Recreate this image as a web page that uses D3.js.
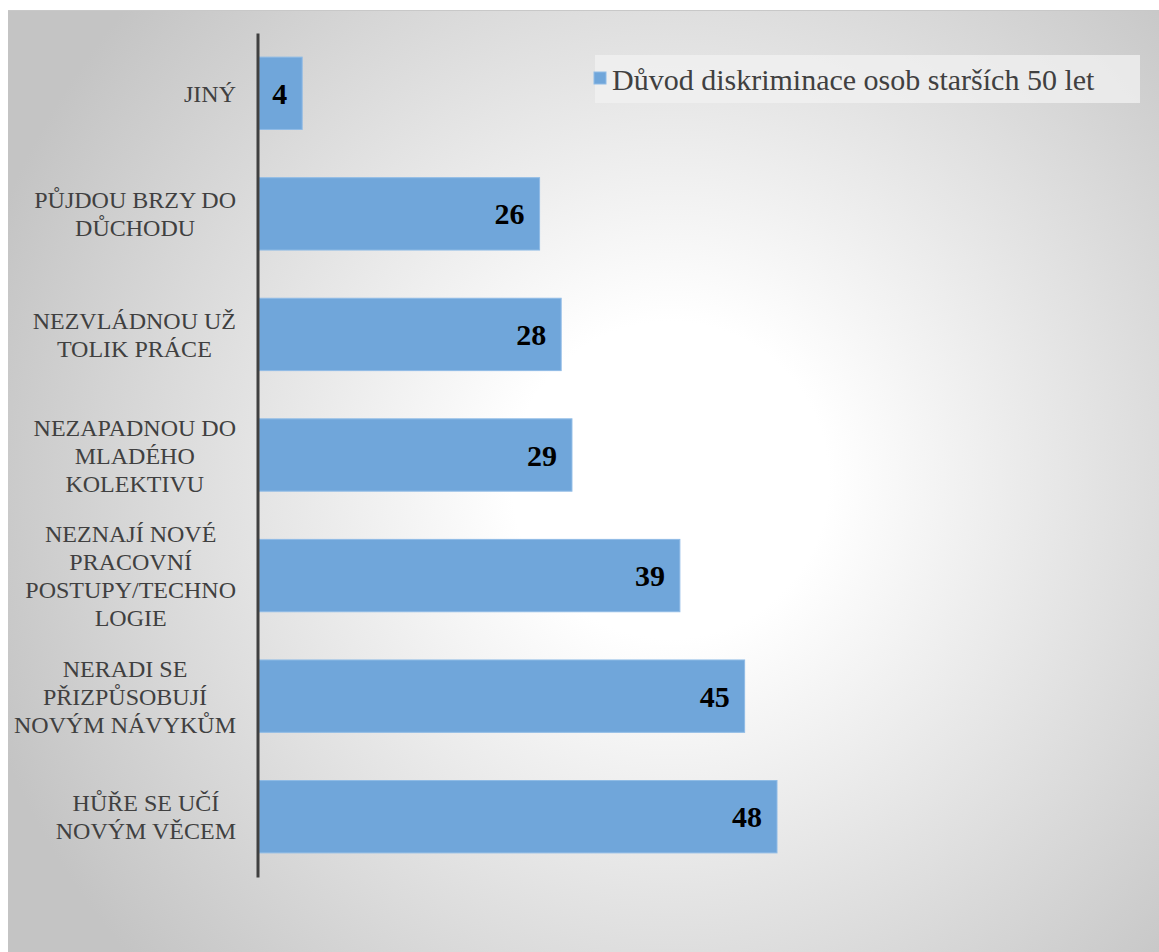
<!DOCTYPE html>
<html>
<head>
<meta charset="utf-8">
<script src="https://cdn.jsdelivr.net/npm/d3@7"></script>
<style>
  html, body { margin: 0; padding: 0; background: #fff; }
  svg { display: block; }
</style>
</head>
<body>
<div></div>
<script>
var categories = [
    "JINÝ",
    "PŮJDOU BRZY DO DŮCHODU",
    "NEZVLÁDNOU UŽ TOLIK PRÁCE",
    "NEZAPADNOU DO MLADÉHO KOLEKTIVU",
    "NEZNAJÍ NOVÉ PRACOVNÍ POSTUPY/TECHNOLOGIE",
    "NERADI SE PŘIZPŮSOBUJÍ NOVÝM NÁVYKŮM",
    "HŮŘE SE UČÍ NOVÝM VĚCEM"
];
// how each category label wraps on the axis
var labelLines = [
    ["JINÝ"],
    ["PŮJDOU BRZY DO", "DŮCHODU"],
    ["NEZVLÁDNOU UŽ", "TOLIK PRÁCE"],
    ["NEZAPADNOU DO", "MLADÉHO", "KOLEKTIVU"],
    ["NEZNAJÍ NOVÉ", "PRACOVNÍ", "POSTUPY/TECHNO", "LOGIE"],
    ["NERADI SE", "PŘIZPŮSOBUJÍ", "NOVÝM NÁVYKŮM"],
    ["HŮŘE SE UČÍ", "NOVÝM VĚCEM"]
];
var values = [4, 26, 28, 29, 39, 45, 48];
var seriesName = "Důvod diskriminace osob starších 50 let";

var width = 1159,
    height = 952;
var serif = "'Liberation Serif', 'Times New Roman', serif";

var svg = d3.select("div")
    .append("svg")
    .attr("width", width)
    .attr("height", height);

// background panel with a radial glow
var defs = svg.append("defs");
var grad = defs.append("radialGradient")
    .attr("id", "bg")
    .attr("gradientUnits", "userSpaceOnUse")
    .attr("cx", 670).attr("cy", 480).attr("r", 720);
grad.append("stop").attr("offset", "0.22").attr("stop-color", "#ffffff");
grad.append("stop").attr("offset", "1").attr("stop-color", "#c4c4c4");

svg.append("rect")
    .attr("x", 8).attr("y", 10)
    .attr("width", width - 8).attr("height", height - 10)
    .attr("fill", "url(#bg)");
svg.append("line")
    .attr("x1", 8).attr("x2", width)
    .attr("y1", 10.5).attr("y2", 10.5)
    .attr("stroke", "#c8c8c8");

var x = d3.scaleLinear()
    .domain([0, 48])
    .range([259, 777]);

var y = d3.scaleBand()
    .domain(categories)
    .range([33, 877])
    .paddingInner(0.4)
    .paddingOuter(0.2);

// bars
svg.append("g")
    .selectAll("rect")
    .data(values)
    .enter().append("rect")
    .attr("x", x(0))
    .attr("y", function (d, i) { return y(categories[i]); })
    .attr("width", function (d) { return x(d) - x(0); })
    .attr("height", y.bandwidth())
    .attr("fill", "#70a6da")
    .attr("stroke", "#8fbbe6")
    .attr("stroke-width", 1);

// value labels
svg.append("g")
    .selectAll("text")
    .data(values)
    .enter().append("text")
    .attr("x", function (d) { return x(d) - 15; })
    .attr("y", function (d, i) { return y(categories[i]) + y.bandwidth() / 2; })
    .attr("dy", "0.35em")
    .attr("text-anchor", "end")
    .attr("font-family", serif)
    .attr("font-weight", "bold")
    .attr("font-size", 30)
    .attr("fill", "#000")
    .text(function (d) { return d; });

// axis line
var axis = svg.append("g")
    .attr("transform", "translate(257.5,0)")
    .call(d3.axisLeft(y).tickSize(0).tickSizeOuter(0).tickFormat(""));
axis.select(".domain")
    .attr("stroke", "#404040")
    .attr("stroke-width", 3);
axis.selectAll(".tick text").remove();

// wrapped category labels: block right-aligned to the axis, lines centred in the block
var lineH = 28,
    labelRight = 236;
var labels = svg.append("g")
    .attr("font-family", serif)
    .attr("font-size", 24)
    .attr("fill", "#404040")
    .attr("text-anchor", "middle")
    .selectAll("text")
    .data(categories)
    .enter().append("text")
    .attr("y", function (d) { return y(d) + y.bandwidth() / 2; });

labels.each(function (d, i) {
    var lines = labelLines[i];
    var t = d3.select(this);
    var spans = lines.map(function (ln, j) {
        return t.append("tspan")
            .attr("dy", j === 0 ? ((-(lines.length - 1) / 2) * lineH + 8.5) + "px" : lineH + "px")
            .text(ln);
    });
    var maxW = d3.max(spans, function (s) { return s.node().getComputedTextLength(); });
    spans.forEach(function (s) { s.attr("x", labelRight - maxW / 2); });
});

// legend
var legend = svg.append("g");
legend.append("rect")
    .attr("x", 595).attr("y", 55)
    .attr("width", 545).attr("height", 48)
    .attr("fill", "#f2f2f2")
    .attr("fill-opacity", 0.75);
legend.append("rect")
    .attr("x", 594).attr("y", 72)
    .attr("width", 12).attr("height", 12)
    .attr("fill", "#70a6da")
    .attr("stroke", "#8fbbe6");
legend.append("text")
    .attr("x", 612).attr("y", 79)
    .attr("dy", "0.35em")
    .attr("font-family", serif)
    .attr("font-size", 30)
    .attr("fill", "#404040")
    .text(seriesName);
</script>
</body>
</html>
